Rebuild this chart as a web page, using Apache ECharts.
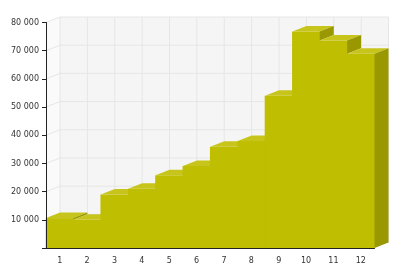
<!DOCTYPE html>
<html>
<head>
<meta charset="utf-8">
<script src="https://cdn.jsdelivr.net/npm/echarts@6/dist/echarts.min.js"></script>
<style>html,body{margin:0;padding:0;background:#fff;}#c{width:400px;height:273px;}</style>
</head>
<body>
<div id="c"></div>
<script>
const categories = ['1','2','3','4','5','6','7','8','9','10','11','12'];
const values = [10600, 10000, 19000, 21000, 25800, 29100, 35900, 38000, 54000, 76800, 73600, 68900];
const yTicks = [0, 10000, 20000, 30000, 40000, 50000, 60000, 70000, 80000];

const DX = 14, DY = 5.5;
const FRONT = '#BFBE00', TOP = '#C7C51C', SIDE = '#999800';
const BACK = '#F5F5F5', LEFTWALL = '#FAFAFA', GRID = '#E6E6E6';

const chart = echarts.init(document.getElementById('c'));

function fmt(v){ return v === 0 ? '' : String(v).replace(/\B(?=(\d{3})+(?!\d))/g, ' '); }

chart.setOption({
  animation: false,
  grid: { left: 46, right: 25.5, top: 22.5, bottom: 25 },
  xAxis: {
    type: 'category', data: categories, boundaryGap: true, z: 5,
    axisLine: { lineStyle: { color: '#222', width: 1 } },
    axisTick: { alignWithLabel: true, length: 4, lineStyle: { color: '#222' } },
    axisLabel: { color: '#333', fontFamily: 'DejaVu Sans', fontSize: 8, margin: 9 },
    splitLine: { show: false }
  },
  yAxis: {
    type: 'value', min: 0, max: 80000, interval: 10000, z: 5,
    axisLine: { show: true, lineStyle: { color: '#222', width: 1 } },
    axisTick: { show: true, length: 4, lineStyle: { color: '#222' } },
    axisLabel: { color: '#333', fontFamily: 'DejaVu Sans', fontSize: 8, margin: 7, formatter: fmt },
    splitLine: { show: false }
  },
  series: [
    {
      type: 'custom', z: 1, silent: true,
      data: [[0, 0]],
      renderItem: function (params, api) {
        const w = api.size([1, 0])[0];
        const left = api.coord([0, 0])[0] - w / 2;
        const right = api.coord([categories.length - 1, 0])[0] + w / 2;
        const bottom = api.coord([0, yTicks[0]])[1];
        const top = api.coord([0, yTicks[yTicks.length - 1]])[1];
        const ch = [];
        ch.push({ type: 'polygon', shape: { points: [[left + DX, top - DY], [right + DX, top - DY], [right + DX, bottom - DY], [left + DX, bottom - DY]] }, style: { fill: BACK } });
        ch.push({ type: 'polygon', shape: { points: [[left, top], [left + DX, top - DY], [left + DX, bottom - DY], [left, bottom]] }, style: { fill: LEFTWALL } });
        yTicks.forEach(function (t) {
          const y = api.coord([0, t])[1];
          ch.push({ type: 'line', shape: { x1: left + DX, y1: y - DY, x2: right + DX, y2: y - DY }, style: { stroke: GRID, lineWidth: 1 } });
          ch.push({ type: 'line', shape: { x1: left, y1: y, x2: left + DX, y2: y - DY }, style: { stroke: GRID, lineWidth: 1 } });
        });
        for (let i = 0; i <= categories.length; i++) {
          const x = left + i * w + DX;
          ch.push({ type: 'line', shape: { x1: x, y1: top - DY, x2: x, y2: bottom - DY }, style: { stroke: GRID, lineWidth: 1 } });
        }
        return { type: 'group', children: ch };
      }
    },
    {
      type: 'custom', z: 2, silent: true,
      encode: { x: 0, y: 1 },
      data: values.map(function (v, i) { return [i, v]; }),
      renderItem: function (params, api) {
        const i = api.value(0), v = api.value(1);
        const p0 = api.coord([i, 0]), p1 = api.coord([i, v]);
        const w = api.size([1, 0])[0];
        const xl = p0[0] - w / 2, xr = p0[0] + w / 2, yb = p0[1], yt = p1[1];
        const children = [
          { type: 'polygon', z2: i * 3, shape: { points: [[xl - 0.3, yb], [xr + 0.6, yb], [xr + 0.6, yt], [xl - 0.3, yt]] }, style: { fill: FRONT } },
          { type: 'polygon', z2: i * 3 + 1, shape: { points: [[xl, yt], [xr, yt], [xr + DX, yt - DY], [xl + DX, yt - DY]] }, style: { fill: TOP } }
        ];
        const isLast = i === values.length - 1;
        const nextV = isLast ? 0 : values[i + 1];
        if (isLast || nextV < v) {
          const yn = api.coord([i, nextV])[1];
          children.push({ type: 'polygon', z2: i * 3 + 2, shape: { points: [[xr, yt], [xr + DX, yt - DY], [xr + DX, yn - DY], [xr, yn]] }, style: { fill: SIDE } });
        }
        return { type: 'group', children: children };
      }
    }
  ]
});
</script>
</body>
</html>
